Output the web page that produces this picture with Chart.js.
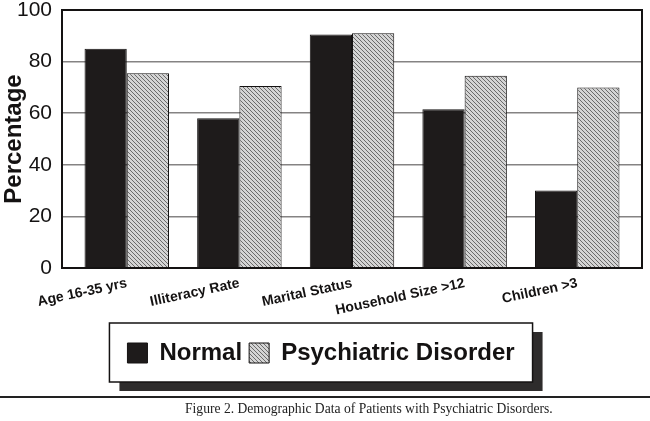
<!DOCTYPE html>
<html>
<head>
<meta charset="utf-8">
<script src="https://cdn.jsdelivr.net/npm/chart.js@4.4.1/dist/chart.umd.min.js"></script>
<style>
  html, body { margin: 0; padding: 0; background: #fff; }
  #wrap { position: relative; width: 650px; height: 421px; }
  #caption {
    position: absolute; left: 0; top: 396px; width: 650px;
    border-top: 2px solid #222;
    font: 13.6px 'Liberation Serif', 'Times New Roman', serif;
    color: #222; line-height: 16px; padding-top: 3px;
    text-indent: 185px; white-space: nowrap;
  }
</style>
</head>
<body>
<div id="wrap">
  <canvas id="chart" width="650" height="421"></canvas>
  <div id="caption"></div>
</div>
<script>
// ── DATA ────────────────────────────────────────────────────────────────────
const categories   = ['Age 16-35 yrs', 'Illiteracy Rate', 'Marital Status', 'Household Size >12', 'Children >3'];
const normalValues = [85, 58, 90.5, 61.5, 30];
const psychValues  = [75.5, 70.5, 91, 74.5, 70];
const yTickLabels  = [0, 20, 40, 60, 80, 100];
const caption      = 'Figure 2. Demographic Data of Patients with Psychiatric Disorders.';

const SANS = "'Liberation Sans', Arial, sans-serif";
const INK  = '#141212';

document.getElementById('caption').textContent = caption;

// ── HELPERS ─────────────────────────────────────────────────────────────────

/** Fine "\\\\" hatch on light grey, like the printed fill. */
function hatchPattern() {
  const c = document.createElement('canvas');
  c.width = c.height = 4;
  const g = c.getContext('2d');
  g.fillStyle = '#d4d4d4';
  g.fillRect(0, 0, 4, 4);
  g.fillStyle = '#6a6a6a';
  for (let i = 0; i < 4; i++) g.fillRect(i, i, 1, 1);
  return g.createPattern(c, 'repeat');
}

const toPoints = vals => vals.map((v, i) => ({ x: i, y: v }));

// box round the plot, inner minor ticks, framed legend with drop shadow
const decorPlugin = {
  id: 'decor',
  beforeDraw(chart) {
    const hb = chart.legend && chart.legend.legendHitBoxes;
    if (!hb || !hb.length) return;
    const { ctx } = chart;
    const left  = Math.min(...hb.map(b => b.left)) - 18;
    const right = Math.max(...hb.map(b => b.left + b.width)) + 18;
    const cy    = hb[0].top + hb[0].height / 2;
    const top = cy - 30, h = 59, w = right - left;
    ctx.save();
    ctx.fillStyle = '#2e2c2c';
    ctx.fillRect(left + 10, top + 9, w, h);
    ctx.fillStyle = '#fff';
    ctx.fillRect(left, top, w, h);
    ctx.strokeStyle = INK;
    ctx.lineWidth = 1.5;
    ctx.strokeRect(left, top, w, h);
    ctx.restore();
  },
  afterDatasetsDraw(chart) {
    const { ctx, chartArea: a, scales: { y } } = chart;
    ctx.save();
    ctx.strokeStyle = INK;
    ctx.lineWidth = 1.5;
    ctx.beginPath();
    y.ticks.forEach(t => {
      if (yTickLabels.includes(t.value)) return;
      const py = y.getPixelForValue(t.value);
      ctx.moveTo(a.left, py);
      ctx.lineTo(a.left + 4, py);
    });
    ctx.stroke();
    ctx.lineWidth = 2;
    ctx.strokeRect(a.left, a.top, a.right - a.left, a.bottom - a.top);
    ctx.restore();
  }
};

// ── CHART ───────────────────────────────────────────────────────────────────
Chart.defaults.font.family = SANS;
Chart.defaults.color = INK;

new Chart(document.getElementById('chart'), {
  type: 'bar',
  data: {
    datasets: [
      {
        label: 'Normal',
        data: toPoints(normalValues),
        backgroundColor: '#1e1b1b',
        borderColor: INK,
        borderWidth: 1,
      },
      {
        label: 'Psychiatric Disorder',
        data: toPoints(psychValues),
        backgroundColor: hatchPattern(),
        borderColor: INK,
        borderWidth: 1,
      },
    ]
  },
  options: {
    responsive: false,
    animation: false,
    layout: { padding: { top: 0, right: 8, left: 0, bottom: 46 } },
    datasets: { bar: { categoryPercentage: 0.75, barPercentage: 1 } },
    scales: {
      x: {
        type: 'linear',
        offset: false,
        min: -0.575,
        max: 4.575,
        afterBuildTicks: s => { s.ticks = categories.map((_, i) => ({ value: i })); },
        afterFit: s => { s.height = 66; },
        ticks: {
          callback: v => categories[v],
          autoSkip: false,
          minRotation: 12,
          maxRotation: 12,
          padding: 7,
          font: { size: 14, weight: 'bold' },
        },
        grid: { display: false, drawTicks: false },
        border: { display: false },
      },
      y: {
        min: 0,
        max: 100,
        afterFit: s => { s.width = 62; s.paddingTop = 10; },
        ticks: {
          stepSize: 10,
          callback: v => (yTickLabels.includes(v) ? v : ''),
          padding: 10,
          font: { size: 21 },
        },
        grid: {
          color: c => (yTickLabels.slice(1, -1).includes(c.tick.value) ? '#858383' : 'rgba(0,0,0,0)'),
          lineWidth: 1.5,
          drawTicks: false,
        },
        border: { display: false },
        title: {
          display: true,
          text: 'Percentage',
          font: { size: 24, weight: 'bold' },
          padding: { top: 0, bottom: 0 },
        },
      },
    },
    plugins: {
      legend: {
        position: 'bottom',
        labels: {
          font: { size: 24, weight: 'bold' },
          boxWidth: 20,
          boxHeight: 20,
          padding: 7,
        },
      },
      title: { display: false },
      tooltip: { enabled: false },
    },
  },
  plugins: [decorPlugin],
});
</script>
</body>
</html>
